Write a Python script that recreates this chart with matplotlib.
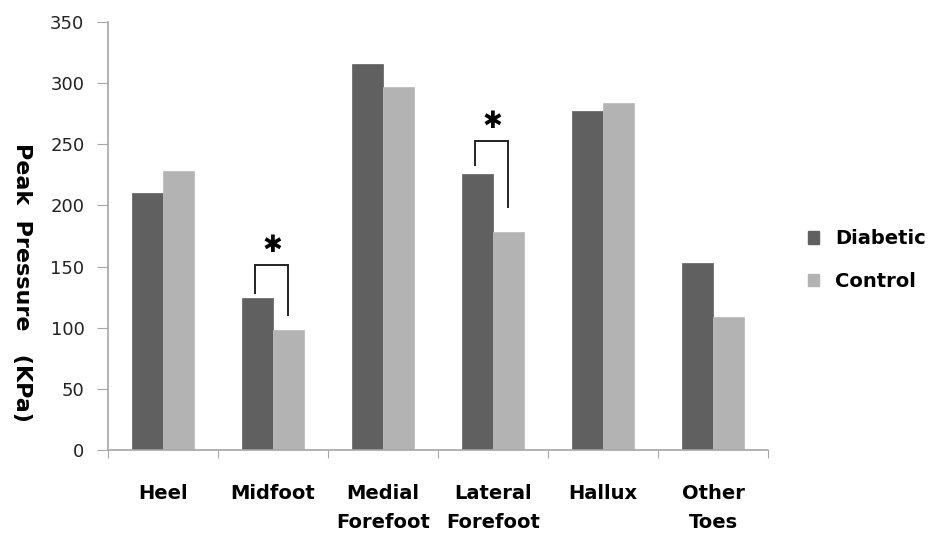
import numpy as np
import matplotlib
matplotlib.use("Agg")
import matplotlib.pyplot as plt
from matplotlib.patches import Patch

categories = ["Heel", "Midfoot", "Medial\nForefoot", "Lateral\nForefoot", "Hallux", "Other\nToes"]
diabetic = [210, 124, 316, 226, 277, 153]
control = [228, 98, 297, 178, 284, 109]

# significance brackets: (category index, top, left end, right end, star height)
brackets = [(1, 151, 128, 110, 168), (3, 253, 233, 199, 269)]

dark = "#606060"
light = "#b3b3b3"
axis_grey = "#a6a6a6"

fig = plt.figure(figsize=(9.31, 5.40), dpi=100)
ax = fig.add_axes([108 / 931, 90 / 540, 660 / 931, 428 / 540])

x = np.arange(len(categories))
w = 0.282
ax.bar(x - w / 2, diabetic, w, color=dark, edgecolor="#6e6e6e", linewidth=0.6)
ax.bar(x + w / 2, control, w, color=light, edgecolor="#bdbdbd", linewidth=0.6)

for i, top, yl, yr, ys in brackets:
    xl, xr = i - 0.16, i + 0.14
    ax.plot([xl, xl, xr, xr], [yl, top, top, yr], color="#222222", lw=1.4,
            solid_joinstyle="miter")
    ax.text((xl + xr) / 2, ys, "\u2731", ha="center", va="center",
            fontsize=17, color="black")

ax.set_xlim(-0.5, 5.5)
ax.set_ylim(0, 350)
ax.set_yticks(range(0, 351, 50))
ax.tick_params(axis="y", direction="out", length=8, color=axis_grey,
               labelsize=13, pad=9, labelcolor="#222222")

# category ticks sit at the boundaries, labels at centres
ax.set_xticks(np.arange(-0.5, 6, 1))
ax.set_xticklabels([])
ax.tick_params(axis="x", direction="out", length=6, color=axis_grey)
for xi, lab in zip(x, categories):
    ax.text(xi, -28, lab, ha="center", va="top", fontsize=14,
            fontweight="bold", linespacing=1.65)

for s in ["top", "right"]:
    ax.spines[s].set_visible(False)
for s in ["left", "bottom"]:
    ax.spines[s].set_color(axis_grey)
    ax.spines[s].set_linewidth(1.2)

fig.text(22 / 931, 1 - 282 / 540, "Peak  Pressure   (KPa)", rotation=-90,
         ha="center", va="center", fontsize=16, fontweight="bold")

handles = [Patch(color=dark), Patch(color=light)]
fig.legend(handles, ["Diabetic", "Control"], loc="center left",
           bbox_to_anchor=(798 / 931, 1 - 260 / 540), frameon=False,
           prop={"size": 14, "weight": "bold"}, handlelength=0.6,
           handleheight=0.6, handletextpad=0.8, labelspacing=1.2,
           borderpad=0)

fig.savefig("out.png", dpi=100)
